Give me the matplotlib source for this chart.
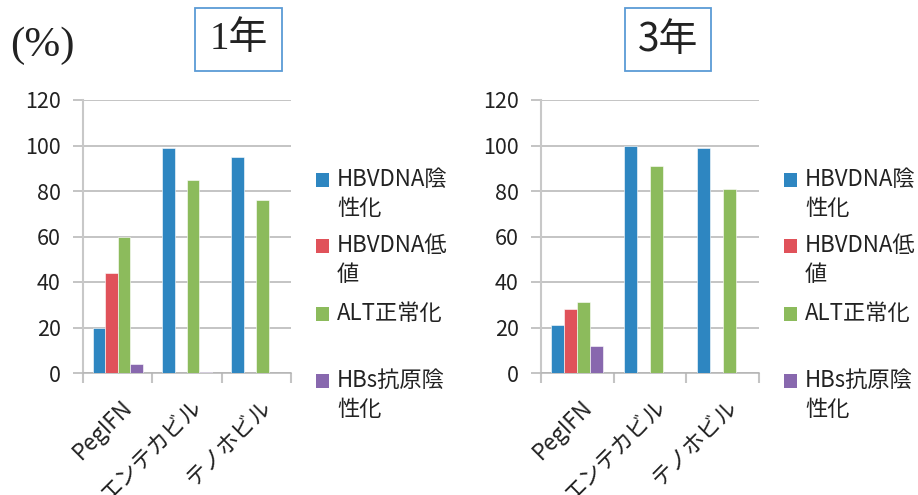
import matplotlib
matplotlib.use('Agg')
import matplotlib.pyplot as plt
from matplotlib.patches import Rectangle
import numpy as np

plt.rcParams['font.family'] = ['Noto Sans CJK JP', 'DejaVu Sans']

categories = ['PegIFN', 'エンテカビル', 'テノホビル']
series_names = ['HBVDNA陰\n性化', 'HBVDNA低\n値', 'ALT正常化', 'HBs抗原陰\n性化']
colors = ['#2e86c1', '#e0525a', '#8cbb5c', '#8868ae']

year1_neg = [20, 99, 95]
year1_low = [44, 0, 0]
year1_alt = [60, 85, 76]
year1_hbs = [4, 0.3, 0]

year3_neg = [21, 100, 99]
year3_low = [28, 0, 0]
year3_alt = [31, 91, 81]
year3_hbs = [12, 0, 0]

yticks = [0, 20, 40, 60, 80, 100, 120]

W, H = 918, 495
fig = plt.figure(figsize=(W / 100, H / 100), dpi=100)


def px_box(x0, y0, x1, y1):
    return [x0 / W, 1 - y1 / H, (x1 - x0) / W, (y1 - y0) / H]


def draw_panel(rect, data, legend_x):
    ax = fig.add_axes(rect)
    x = np.arange(len(categories))
    w = 0.18
    for i, vals in enumerate(data):
        ax.bar(x + (i - 1.5) * w, vals, width=w, color=colors[i],
               edgecolor='white', linewidth=0.4, zorder=3)
    ax.set_xlim(-0.5, 2.5)
    ax.set_ylim(0, 120)
    ax.set_yticks(yticks)
    ax.yaxis.grid(True, color='#b4b4b4', linewidth=1.1, zorder=0)
    ax.tick_params(axis='y', length=7, width=1.1, color='#b4b4b4',
                   labelsize=15.5, pad=9, labelcolor='#222222')
    ax.set_xticks([-0.5, 0.5, 1.5, 2.5])
    ax.set_xticklabels([])
    ax.tick_params(axis='x', which='major', length=7, width=1.5,
                   color='#c4c4c4', direction='out')
    ax.set_xticks(x + 0.05, minor=True)
    ax.set_xticklabels(categories, minor=True, rotation=45, ha='right',
                       va='top', rotation_mode='anchor', fontsize=16,
                       color='#222222')
    ax.tick_params(axis='x', which='minor', length=0, pad=16)
    for s in ['top', 'right']:
        ax.spines[s].set_visible(False)
    ax.spines['left'].set_color('#c8c8c8')
    ax.spines['left'].set_linewidth(1.5)
    ax.spines['bottom'].set_color('#b4b4b4')
    ax.spines['bottom'].set_linewidth(1.1)

    # legend, Excel style with wrapped labels
    ys = [180, 246, 314, 381]
    for name, c, yy in zip(series_names, colors, ys):
        fig.add_artist(Rectangle(((legend_x) / W, 1 - (yy + 7) / H),
                                 13 / W, 14 / H, facecolor=c,
                                 edgecolor='none',
                                 transform=fig.transFigure))
        fig.text((legend_x + 21) / W, 1 - (yy - 12) / H, name,
                 fontsize=16, va='top', ha='left', color='#222222',
                 linespacing=1.35)
    return ax


draw_panel(px_box(83, 100, 291, 373),
           [year1_neg, year1_low, year1_alt, year1_hbs], 316)
draw_panel(px_box(541, 100, 759, 373),
           [year3_neg, year3_low, year3_alt, year3_hbs], 784)

# titles in boxes
for (x0, x1), label, fam in [((195, 282), '1年', ['Liberation Serif', 'Noto Sans CJK JP']),
                             ((625, 711), '3年', ['Noto Sans CJK JP'])]:
    fig.add_artist(Rectangle((x0 / W, 1 - 71 / H), (x1 - x0) / W, 63 / H,
                             facecolor='white', edgecolor='#5b9bd5',
                             linewidth=1.3, transform=fig.transFigure))
    fig.text((x0 + x1) / 2 / W, 1 - 40 / H, label, family=fam,
             fontsize=28, ha='center', va='center', color='#222222')

fig.text(42 / W, 1 - 46 / H, '(%)', family=['Liberation Serif'],
         fontsize=31, ha='center', va='center', color='#222222')

fig.savefig('out.png', dpi=100)
